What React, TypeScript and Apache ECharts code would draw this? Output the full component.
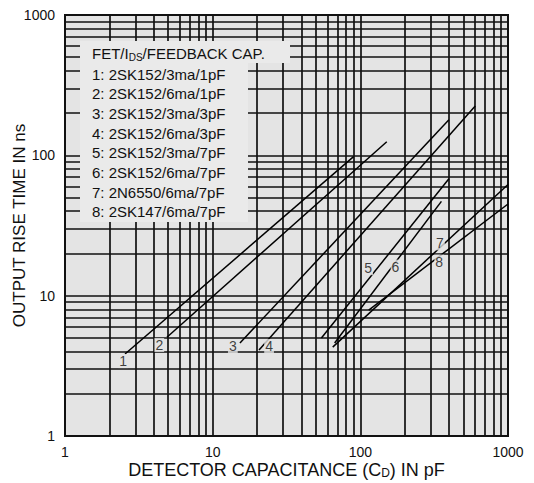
import React, { useEffect, useRef } from "react";
import * as echarts from "echarts";

// ---- data ----
const xTickLabels = ["1", "10", "100", "1000"];
const yTickLabels = ["1", "10", "100", "1000"];
const gridX = [2, 3, 4, 5, 6, 7, 8, 9, 10, 20, 30, 40, 50, 60, 70, 80, 90, 100, 200, 300, 400, 500, 600, 700, 800, 900];
const gridY = [2, 3, 4, 5, 6, 7, 8, 9, 10, 20, 30, 40, 50, 60, 70, 80, 90, 100, 200, 300, 400, 500, 600, 700, 800, 900];

const curve1 = [[2.55, 3.84], [90, 98]];
const curve2 = [[4.9, 5.05], [151, 125]];
const curve3 = [[15.3, 4.6], [398, 179]];
const curve4 = [[20.6, 4.1], [600, 225]];
const curve5 = [[54.5, 5.0], [398, 68]];
const curve6 = [[67, 4.6], [354, 47]];
const curve7 = [[65, 4.3], [1000, 62]];
const curve8 = [[114, 7.9], [1000, 45]];
const curves = [curve1, curve2, curve3, curve4, curve5, curve6, curve7, curve8];

const curveTags = ["1", "2", "3", "4", "5", "6", "7", "8"];
const tagPositions = [[2.48, 3.42], [4.35, 4.45], [13.7, 4.38], [24.1, 4.38], [113, 15.7], [173, 16.1], [346, 23.6], [342, 17.5]];

const legendTitle = "FET/I{sub|DS}/FEEDBACK CAP.";
const legendItems = [
  "1: 2SK152/3ma/1pF",
  "2: 2SK152/6ma/1pF",
  "3: 2SK152/3ma/3pF",
  "4: 2SK152/6ma/3pF",
  "5: 2SK152/3ma/7pF",
  "6: 2SK152/6ma/7pF",
  "7: 2N6550/6ma/7pF",
  "8: 2SK147/6ma/7pF",
];

const FONT = "'Liberation Sans', Arial, Helvetica, sans-serif";
const INK = "#111";
const PAPER = "#e4e4e4";

export default function App() {
  const ref = useRef<HTMLDivElement>(null);
  useEffect(() => {
    if (!ref.current) return;
    const chart = echarts.init(ref.current, undefined, { renderer: "svg" });

    const gridLines: any[] = [];
    gridX.forEach((v) => gridLines.push({ coords: [[v, 1], [v, 1000]] }));
    gridY.forEach((v) => gridLines.push({ coords: [[1, v], [1000, v]] }));

    const legendGraphics: any[] = [
      { type: "rect", z: 3, silent: true, shape: { x: 80, y: 41, width: 210, height: 22 }, style: { fill: "#eaeaea" } },
      { type: "rect", z: 3, silent: true, shape: { x: 80, y: 62, width: 168, height: 160 }, style: { fill: "#eaeaea" } },
      {
        type: "text",
        z: 4,
        x: 92,
        y: 53,
        style: {
          text: legendTitle,
          font: `15px ${FONT}`,
          fill: INK,
          verticalAlign: "middle",
          rich: { sub: { fontSize: 10, fontFamily: FONT, fill: INK, padding: [9, 0, 0, 0] } },
        },
      },
      ...legendItems.map((t, i) => ({
        type: "text",
        z: 4,
        x: 92,
        y: 74 + i * 19.7,
        style: { text: t, font: `15px ${FONT}`, fill: INK, verticalAlign: "middle" },
      })),
    ];

    const option: any = {
      animation: false,
      backgroundColor: "#ffffff",
      grid: {
        left: 65,
        right: 26,
        top: 15,
        bottom: 47,
        containLabel: false,
        outerBoundsMode: "none",
        show: true,
        backgroundColor: PAPER,
        borderColor: INK,
        borderWidth: 2,
      },
      xAxis: {
        type: "log",
        logBase: 10,
        min: 1,
        max: 1000,
        axisLine: { show: false },
        axisTick: { show: false },
        splitLine: { show: false },
        axisLabel: {
          color: INK,
          fontSize: 14,
          fontFamily: FONT,
          margin: 9,
          formatter: (v: number) => xTickLabels[Math.round(Math.log10(v))],
        },
        name: "DETECTOR CAPACITANCE (C{sub|D}) IN pF",
        nameLocation: "middle",
        nameGap: 25,
        nameMoveOverlap: false,
        nameTextStyle: {
          color: INK,
          fontSize: 18,
          fontFamily: FONT,
          verticalAlign: "top",
          lineHeight: 18,
          rich: { sub: { fontSize: 12, fontFamily: FONT, color: INK, lineHeight: 12, padding: [5, 0, 0, 0] } },
        },
      },
      yAxis: {
        type: "log",
        logBase: 10,
        min: 1,
        max: 1000,
        axisLine: { show: false },
        axisTick: { show: false },
        splitLine: { show: false },
        axisLabel: {
          color: INK,
          fontSize: 14,
          fontFamily: FONT,
          margin: 10,
          formatter: (v: number) => yTickLabels[Math.round(Math.log10(v))],
        },
        name: "OUTPUT RISE TIME IN ns",
        nameLocation: "middle",
        nameGap: 37,
        nameMoveOverlap: false,
        nameRotate: 90,
        nameTextStyle: { color: INK, fontSize: 17, fontFamily: FONT },
      },
      graphic: legendGraphics,
      series: [
        {
          type: "lines",
          coordinateSystem: "cartesian2d",
          z: 1,
          silent: true,
          lineStyle: { color: INK, width: 1.7, opacity: 1 },
          data: gridLines,
        },
        ...curves.map((c, i) => ({
          type: "line",
          name: curveTags[i],
          z: 5,
          data: c,
          symbol: "none",
          lineStyle: { color: "#000", width: 1.5 },
        })),
        {
          type: "scatter",
          z: 6,
          symbolSize: 0.01,
          itemStyle: { color: "transparent" },
          label: {
            show: true,
            position: "inside",
            formatter: (p: any) => p.name,
            color: INK,
            fontSize: 14,
            fontFamily: FONT,
            backgroundColor: PAPER,
            padding: [0, 1],
          },
          data: tagPositions.map((p, i) => ({ name: curveTags[i], value: p })),
        },
      ],
    };
    chart.setOption(option);
    return () => chart.dispose();
  }, []);
  return <div ref={ref} style={{ position: "fixed", left: 0, top: 0, width: 534, height: 483 }} />;
}
